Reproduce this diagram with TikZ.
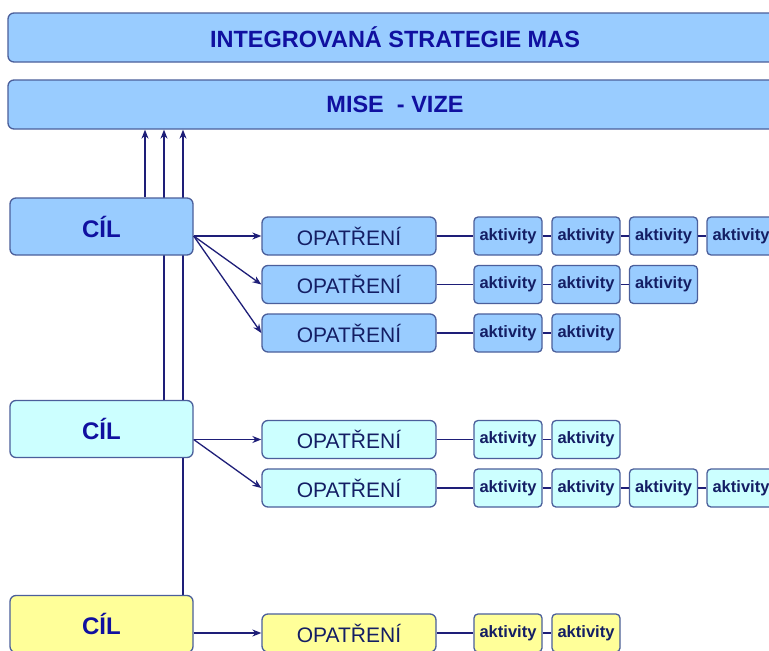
\documentclass[tikz,border=0pt]{standalone}
\usepackage{fontspec}
\setmainfont{Liberation Sans}
\usetikzlibrary{arrows.meta,backgrounds}
\definecolor{fblue}{HTML}{99CCFF}
\definecolor{fcyan}{HTML}{CCFFFF}
\definecolor{fyellow}{HTML}{FFFF99}
\definecolor{bord}{RGB}{75,95,155}
\definecolor{conn}{RGB}{30,30,120}
\definecolor{ttext}{RGB}{16,16,160}
\definecolor{otext}{RGB}{20,30,100}
\pgfdeclarelayer{paper}
\pgfsetlayers{paper,background,main}
\begin{document}
\begin{tikzpicture}[x=1pt,y=-1pt,
  box/.style={draw=bord,line width=1.3pt,rounded corners=6pt,inner sep=0pt},
  headbox/.style={box,fill=fblue,minimum width=774pt,minimum height=49pt,
    font=\fontsize{23.5}{27}\selectfont\bfseries,text=ttext},
  cilbox/.style={box,minimum width=183pt,minimum height=57pt,
    font=\fontsize{24}{28}\selectfont\bfseries,text=ttext},
  opbox/.style={box,minimum width=174pt,minimum height=38pt,
    font=\fontsize{21}{24}\selectfont,text=otext},
  actbox/.style={box,rounded corners=4pt,minimum width=68pt,minimum height=38pt,
    font=\fontsize{16.5}{19}\selectfont\bfseries,text=otext,yshift=0pt},
  conline/.style={draw=conn,line width=1.3pt},
  arr/.style={conline,-{Stealth[length=9pt,width=7pt]}}]
\useasboundingbox (0,0) rectangle (769,651);
\begin{pgfonlayer}{paper}
\fill[white] (0,0) rectangle (769,651);
\end{pgfonlayer}

\node[headbox] (ism) at (395,37.5) {INTEGROVANÁ STRATEGIE MAS};
\node[headbox] (mise) at (395,104.5) {MISE\ \ - VIZE};

\node[cilbox,fill=fblue] (c1) at (101.5,226.5) {CÍL};
\node[cilbox,fill=fcyan] (c2) at (101.5,429) {CÍL};
\node[cilbox,fill=fyellow] (c3) at (101.5,624) {CÍL};

\node[opbox,fill=fblue] (o1) at (349,236) {OPATŘENÍ};
\node[opbox,fill=fblue] (o2) at (349,284.5) {OPATŘENÍ};
\node[opbox,fill=fblue] (o3) at (349,333) {OPATŘENÍ};
\node[opbox,fill=fcyan] (o4) at (349,439.5) {OPATŘENÍ};
\node[opbox,fill=fcyan] (o5) at (349,488) {OPATŘENÍ};
\node[opbox,fill=fyellow] (o6) at (349,633) {OPATŘENÍ};

% activities
\node[actbox,fill=fblue] (a11) at (508,236) {aktivity};
\node[actbox,fill=fblue] (a12) at (586,236) {aktivity};
\node[actbox,fill=fblue] (a13) at (663.5,236) {aktivity};
\node[actbox,fill=fblue] (a14) at (741,236) {aktivity};
\node[actbox,fill=fblue] (a21) at (508,284.5) {aktivity};
\node[actbox,fill=fblue] (a22) at (586,284.5) {aktivity};
\node[actbox,fill=fblue] (a23) at (663.5,284.5) {aktivity};
\node[actbox,fill=fblue] (a31) at (508,333) {aktivity};
\node[actbox,fill=fblue] (a32) at (586,333) {aktivity};
\node[actbox,fill=fcyan] (a41) at (508,439.5) {aktivity};
\node[actbox,fill=fcyan] (a42) at (586,439.5) {aktivity};
\node[actbox,fill=fcyan] (a51) at (508,488) {aktivity};
\node[actbox,fill=fcyan] (a52) at (586,488) {aktivity};
\node[actbox,fill=fcyan] (a53) at (663.5,488) {aktivity};
\node[actbox,fill=fcyan] (a54) at (741,488) {aktivity};
\node[actbox,fill=fyellow] (a61) at (508,633) {aktivity};
\node[actbox,fill=fyellow] (a62) at (586,633) {aktivity};

\coordinate (xa) at (145,0);
\coordinate (xb) at (164,0);
\coordinate (xc) at (183,0);

\begin{pgfonlayer}{background}
  % vertical links to MISE - VIZE
  \draw[arr] (c1.north -| xa) -- (mise.south -| xa);
  \draw[arr] (c2.north -| xb) -- (mise.south -| xb);
  \draw[arr] (c3.north -| xc) -- (mise.south -| xc);
\end{pgfonlayer}

% goal -> measures
\draw[arr] (c1.east |- o1) -- (o1.west);
\draw[arr] (c1.east |- o1) -- (o2.west);
\draw[arr] (c1.east |- o1) -- (o3.west);
\draw[arr] (c2.east |- o4) -- (o4.west);
\draw[arr] (c2.east |- o4) -- (o5.west);
\draw[arr] (c3.east |- o6) -- (o6.west);

% measures -> activities
\draw[conline] (o1) -- (a11) (a11) -- (a12) (a12) -- (a13) (a13) -- (a14);
\draw[conline] (o2) -- (a21) (a21) -- (a22) (a22) -- (a23);
\draw[conline] (o3) -- (a31) (a31) -- (a32);
\draw[conline] (o4) -- (a41) (a41) -- (a42);
\draw[conline] (o5) -- (a51) (a51) -- (a52) (a52) -- (a53) (a53) -- (a54);
\draw[conline] (o6) -- (a61) (a61) -- (a62);
\end{tikzpicture}
\end{document}
